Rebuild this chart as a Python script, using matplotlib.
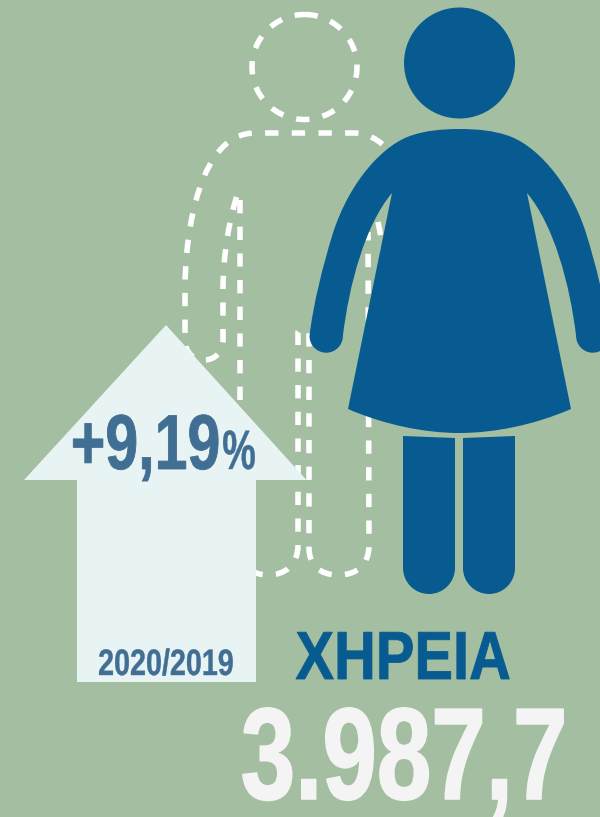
import matplotlib
matplotlib.use("Agg")
import matplotlib.pyplot as plt
from matplotlib.path import Path
from matplotlib.patches import PathPatch, Circle, Polygon
from matplotlib.patheffects import AbstractPathEffect
from matplotlib.transforms import Affine2D

# ---- chart values -------------------------------------------------
category = "ΧΗΡΕΙΑ"
period = "2020/2019"
change_pct = 9.19
amount = 3987.7

# ---- styles -------------------------------------------------------
BG = "#A3BEA0"
BLUE = "#075B90"
ARROW = "#E8F4F4"
ARROW_TEXT = "#416E93"
NUMBER = "#F4F4F4"
FONT = ["Liberation Sans", "DejaVu Sans"]

fig = plt.figure(figsize=(6.0, 8.17), dpi=100, facecolor=BG)
ax = fig.add_axes([0, 0, 1, 1])
ax.set_xlim(0, 600)
ax.set_ylim(817, 0)
ax.axis("off")


class Squeeze(AbstractPathEffect):
    """Horizontal scale about a pixel column, to mimic the condensed type."""
    def __init__(self, xs, x0, stroke=0.0):
        super().__init__()
        self.xs, self.x0, self.stroke = xs, x0, stroke

    def draw_path(self, renderer, gc, tpath, affine, rgbFace=None):
        t = Affine2D().translate(-self.x0, 0).scale(self.xs, 1).translate(self.x0, 0)
        gc0 = renderer.new_gc()
        gc0.copy_properties(gc)
        gc0.set_linewidth(self.stroke)
        gc0.set_foreground(rgbFace)
        renderer.draw_path(gc0, tpath, affine + t, rgbFace)
        gc0.restore()


def label(x, y, s, size, color, xs=1.0, stroke=0.0, z=10):
    t = ax.text(x, y, s, ha="center", va="baseline", fontsize=size, color=color,
                family=FONT, fontweight="bold", zorder=z)
    t.set_path_effects([Squeeze(xs, x, stroke)])
    return t


def bez(start, *segs):
    verts, codes = [start], [Path.MOVETO]
    for seg in segs:
        if len(seg) == 1:
            verts += seg
            codes += [Path.LINETO]
        else:
            verts += seg
            codes += [Path.CURVE4] * 3
    return Path(verts, codes)


# ---- dashed outline of the second person --------------------------
DASH = dict(fill=False, ec="white", lw=4.0, linestyle=(0, (2.4, 2.4)),
            capstyle="butt", zorder=1)
ax.add_patch(Circle((304.5, 67), 52.5, **DASH))

outline = bez(
    (240, 200),
    [(240, 550)],
    [(240, 565), (252, 575), (268, 575)],
    [(285, 575), (298, 565), (298, 545)],
    [(298, 332)],
    [(300, 329), (307, 329), (309, 332)],
    [(309, 548)],
    [(309, 565), (320, 575), (338, 575)],
    [(357, 575), (369, 565), (369, 545)],
    [(368, 232)],
)
ax.add_patch(PathPatch(outline, **DASH))

shoulders = bez(
    (236.5, 197),
    [(229, 222), (223, 255), (223, 290)],
    [(223, 340)],
    [(223, 352), (215, 360), (204, 360)],
    [(193, 360), (185, 352), (185, 340)],
    [(185, 290)],
    [(185, 230), (200, 133), (255, 133)],
    [(353, 133)],
    [(370, 133), (385, 142), (400, 165)],
)
ax.add_patch(PathPatch(shoulders, **DASH))
ax.add_patch(PathPatch(bez((378, 222), [(380, 232), (382, 242), (384, 255)]), **DASH))

# ---- solid figure -------------------------------------------------
ax.add_patch(Circle((459.5, 63), 55.5, fc=BLUE, ec="none", zorder=3))

AX = 459.5


def m(p):
    return (2 * AX - p[0], p[1])


left = [
    [(440, 129), (425, 131), (413, 135)],
    [(385, 143), (350, 180), (333, 233)],
    [(323, 265), (313, 305), (309.5, 336)],
    [(309.5, 345.2), (317, 352.7), (326.2, 352.7)],
    [(335.4, 352.7), (342.9, 345.2), (342.9, 336)],
    [(349, 285), (365, 225), (392, 193)],
    [(348, 409)],
    [(385, 425), (425, 433), (AX, 433)],
]
start = (AX, 129)
pts = [start] + [p for s in left for p in s]
right = []
idx = len(pts) - 1
for s in reversed(left):
    n = len(s)
    prev = pts[idx - n]
    ctrl = [m(p) for p in reversed(s[:-1])] + [m(prev)]
    right.append(ctrl)
    idx -= n
body = bez(start, *left, *right)
ax.add_patch(PathPatch(body, fc=BLUE, ec="none", zorder=3))

for x0, x1, top0, top1 in [(403, 455, 436, 438), (463, 515, 438, 436)]:
    r = (x1 - x0) / 2
    k = r * 0.5523
    c = (x0 + x1) / 2
    leg = bez(
        (x0, top0),
        [(x0, 568)],
        [(x0, 568 + k), (c - k, 594), (c, 594)],
        [(c + k, 594), (x1, 568 + k), (x1, 568)],
        [(x1, top1)],
        [(x0, top0)],
    )
    ax.add_patch(PathPatch(leg, fc=BLUE, ec="none", zorder=3))

# ---- arrow --------------------------------------------------------
ax.add_patch(Polygon([(166, 325), (306.5, 480), (256, 480), (256, 682),
                      (77, 682), (77, 480), (24, 480)],
                     closed=True, fc=ARROW, ec="none", zorder=5))

# ---- texts --------------------------------------------------------
pct_text = f"+{change_pct:.2f}".replace(".", ",")
amount_text = f"{amount:,.1f}".replace(",", "#").replace(".", ",").replace("#", ".")

label(145.5, 469, pct_text, 56, ARROW_TEXT, xs=0.76, stroke=0.6)
label(239, 469, "%", 40, ARROW_TEXT, xs=0.68, stroke=0.3)
label(166, 675, period, 26.5, ARROW_TEXT, xs=0.78, stroke=0.3)
label(403, 679, category, 49, BLUE, xs=0.85, stroke=0.6)
label(404, 799, amount_text, 94, NUMBER, xs=0.75, stroke=1.2)

fig.savefig("out.png", dpi=100, facecolor=BG)
